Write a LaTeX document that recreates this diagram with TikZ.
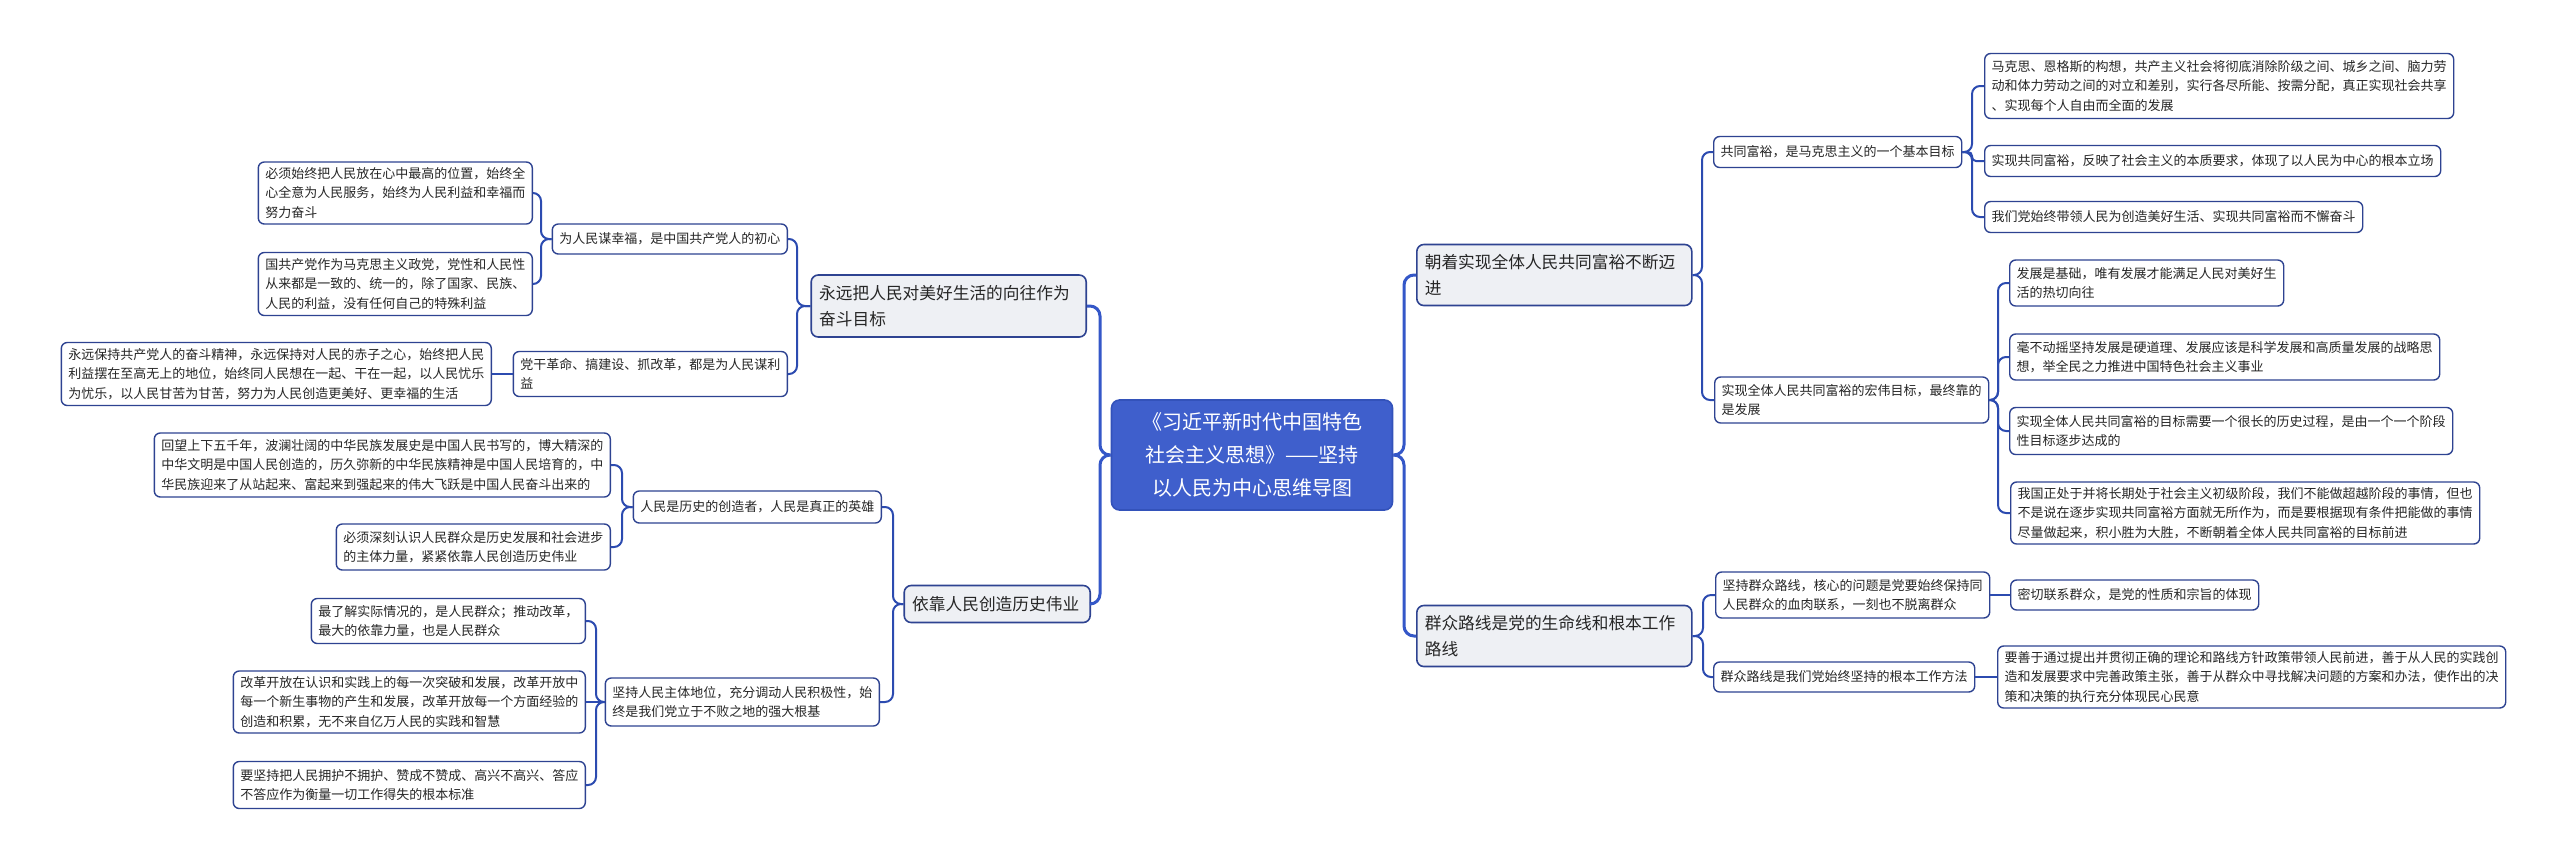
\documentclass[tikz,border=0pt]{standalone}
\usepackage{fontspec}
\newfontfamily\cjk{Noto Sans CJK SC}
\definecolor{bordc}{HTML}{2E4391}
\definecolor{mainfill}{HTML}{EEF0F4}
\definecolor{rootfill}{HTML}{3F5FCC}
\definecolor{rootbord}{HTML}{3352BA}
\definecolor{txtc}{HTML}{262626}
\definecolor{conone}{HTML}{3457C8}
\definecolor{contwo}{HTML}{2C4BB0}
\begin{document}
\begin{tikzpicture}[x=0.5pt,y=-0.5pt,
  leaf/.style={draw=bordc, line width=0.7pt, fill=white, rounded corners=3pt, inner xsep=3.5pt, inner ysep=2pt, align=left, font=\cjk\fontsize{6.5}{9.75}\selectfont, text=txtc},
  mainn/.style={draw=bordc, line width=0.8pt, fill=mainfill, rounded corners=3.5pt, inner xsep=4pt, align=left, font=\cjk\fontsize{8.35}{13}\selectfont, text=txtc},
  rootn/.style={draw=rootbord, line width=0.8pt, fill=rootfill, rounded corners=4pt, align=center, text=white, font=\cjk\fontsize{10}{16.5}\selectfont, minimum width=140.5pt, minimum height=55pt},
  c1/.style={draw=conone, line width=1.5pt, rounded corners=5pt},
  c2/.style={draw=contwo, line width=1pt, rounded corners=4pt},
]
\fill[white] (0,0) rectangle (2560,864);
\useasboundingbox (0,0) rectangle (2560,864);

% spines
\coordinate (sRootL) at (1100,0);
\coordinate (sRootR) at (1404,0);
\coordinate (sL1) at (797,0);
\coordinate (sL1a) at (541,0);
\coordinate (sL2) at (893,0);
\coordinate (sL2a) at (622,0);
\coordinate (sL2b) at (596,0);
\coordinate (sR1) at (1702,0);
\coordinate (sR1a) at (1972,0);
\coordinate (sR1b) at (1998,0);
\coordinate (sR2) at (1703,0);

% root
\node[rootn] (root) at (1252,455) {《习近平新时代中国特色\\社会主义思想》——坚持\\以人民为中心思维导图};

% left branch 1
\node[mainn, text width=129.5pt, minimum height=31pt, anchor=east] (L1) at (1087,306) {永远把人民对美好生活的向往作为\\奋斗目标};
\node[leaf, minimum height=15pt, anchor=east] (L1a) at (788,239) {为人民谋幸福，是中国共产党人的初心};
\node[leaf, minimum height=22.5pt, anchor=east] (L1b) at (788,374) {党干革命、搞建设、抓改革，都是为人民谋利\\益};
\node[leaf, minimum height=31pt, anchor=east] (L1ai) at (533,193) {必须始终把人民放在心中最高的位置，始终全\\心全意为人民服务，始终为人民利益和幸福而\\努力奋斗};
\node[leaf, minimum height=31.5pt, anchor=east] (L1aii) at (533,284) {国共产党作为马克思主义政党，党性和人民性\\从来都是一致的、统一的，除了国家、民族、\\人民的利益，没有任何自己的特殊利益};
\node[leaf, minimum height=31.5pt, anchor=east] (L1bi) at (492,374) {永远保持共产党人的奋斗精神，永远保持对人民的赤子之心，始终把人民\\利益摆在至高无上的地位，始终同人民想在一起、干在一起，以人民忧乐\\为忧乐，以人民甘苦为甘苦，努力为人民创造更美好、更幸福的生活};

% left branch 2
\node[mainn, text width=85pt, minimum height=18.5pt, anchor=east] (L2) at (1091,604) {依靠人民创造历史伟业};
\node[leaf, minimum height=16pt, anchor=east] (L2a) at (882,507) {人民是历史的创造者，人民是真正的英雄};
\node[leaf, minimum height=32pt, anchor=east] (L2ai) at (611,465) {回望上下五千年，波澜壮阔的中华民族发展史是中国人民书写的，博大精深的\\中华文明是中国人民创造的，历久弥新的中华民族精神是中国人民培育的，中\\华民族迎来了从站起来、富起来到强起来的伟大飞跃是中国人民奋斗出来的};
\node[leaf, minimum height=23pt, anchor=east] (L2aii) at (611,547) {必须深刻认识人民群众是历史发展和社会进步\\的主体力量，紧紧依靠人民创造历史伟业};
\node[leaf, minimum height=24pt, anchor=east] (L2b) at (880,702) {坚持人民主体地位，充分调动人民积极性，始\\终是我们党立于不败之地的强大根基};
\node[leaf, minimum height=22.5pt, anchor=east] (L2bi) at (586,621) {最了解实际情况的，是人民群众；推动改革，\\最大的依靠力量，也是人民群众};
\node[leaf, minimum height=31pt, anchor=east] (L2bii) at (586,702) {改革开放在认识和实践上的每一次突破和发展，改革开放中\\每一个新生事物的产生和发展，改革开放每一个方面经验的\\创造和积累，无不来自亿万人民的实践和智慧};
\node[leaf, minimum height=23.5pt, anchor=east] (L2biii) at (586,785) {要坚持把人民拥护不拥护、赞成不赞成、高兴不高兴、答应\\不答应作为衡量一切工作得失的根本标准};

% right branch 1
\node[mainn, text width=129.5pt, minimum height=30.5pt, anchor=west] (R1) at (1416,275) {朝着实现全体人民共同富裕不断迈\\进};
\node[leaf, minimum height=15.5pt, anchor=west] (R1a) at (1713,152) {共同富裕，是马克思主义的一个基本目标};
\node[leaf, minimum height=32.5pt, anchor=west] (R1ai) at (1984,86) {马克思、恩格斯的构想，共产主义社会将彻底消除阶级之间、城乡之间、脑力劳\\动和体力劳动之间的对立和差别，实行各尽所能、按需分配，真正实现社会共享\\、实现每个人自由而全面的发展};
\node[leaf, minimum height=15.5pt, anchor=west] (R1aii) at (1984,161) {实现共同富裕，反映了社会主义的本质要求，体现了以人民为中心的根本立场};
\node[leaf, minimum height=15.5pt, anchor=west] (R1aiii) at (1984,217) {我们党始终带领人民为创造美好生活、实现共同富裕而不懈奋斗};
\node[leaf, minimum height=23pt, anchor=west] (R1b) at (1714,400) {实现全体人民共同富裕的宏伟目标，最终靠的\\是发展};
\node[leaf, minimum height=23pt, anchor=west] (R1bi) at (2009,283) {发展是基础，唯有发展才能满足人民对美好生\\活的热切向往};
\node[leaf, minimum height=23pt, anchor=west] (R1bii) at (2009,357) {毫不动摇坚持发展是硬道理、发展应该是科学发展和高质量发展的战略思\\想，举全民之力推进中国特色社会主义事业};
\node[leaf, minimum height=23.5pt, anchor=west] (R1biii) at (2009,431) {实现全体人民共同富裕的目标需要一个很长的历史过程，是由一个一个阶段\\性目标逐步达成的};
\node[leaf, minimum height=31pt, anchor=west] (R1biv) at (2010,513) {我国正处于并将长期处于社会主义初级阶段，我们不能做超越阶段的事情，但也\\不是说在逐步实现共同富裕方面就无所作为，而是要根据现有条件把能做的事情\\尽量做起来，积小胜为大胜，不断朝着全体人民共同富裕的目标前进};

% right branch 2
\node[mainn, text width=129.5pt, minimum height=30.5pt, anchor=west] (R2) at (1416,636) {群众路线是党的生命线和根本工作\\路线};
\node[leaf, minimum height=23pt, anchor=west] (R2a) at (1715,595) {坚持群众路线，核心的问题是党要始终保持同\\人民群众的血肉联系，一刻也不脱离群众};
\node[leaf, minimum height=15pt, anchor=west] (R2ai) at (2010,595) {密切联系群众，是党的性质和宗旨的体现};
\node[leaf, minimum height=15pt, anchor=west] (R2b) at (1713,677) {群众路线是我们党始终坚持的根本工作方法};
\node[leaf, minimum height=31pt, anchor=west] (R2bi) at (1997,677) {要善于通过提出并贯彻正确的理论和路线方针政策带领人民前进，善于从人民的实践创\\造和发展要求中完善政策主张，善于从群众中寻找解决问题的方案和办法，使作出的决\\策和决策的执行充分体现民心民意};

% connectors: root
\draw[c1] (root.west) -| (sRootL |- L1.east) -- (L1.east);
\draw[c1] (root.west) -| (sRootL |- L2.east) -- (L2.east);
\draw[c1] (root.east) -| (sRootR |- R1.west) -- (R1.west);
\draw[c1] (root.east) -| (sRootR |- R2.west) -- (R2.west);
% left 1
\draw[c2] (L1.west) -| (sL1 |- L1a.east) -- (L1a.east);
\draw[c2] (L1.west) -| (sL1 |- L1b.east) -- (L1b.east);
\draw[c2] (L1a.west) -| (sL1a |- L1ai.east) -- (L1ai.east);
\draw[c2] (L1a.west) -| (sL1a |- L1aii.east) -- (L1aii.east);
\draw[c2] (L1b.west) -- (L1bi.east);
% left 2
\draw[c2] (L2.west) -| (sL2 |- L2a.east) -- (L2a.east);
\draw[c2] (L2.west) -| (sL2 |- L2b.east) -- (L2b.east);
\draw[c2] (L2a.west) -| (sL2a |- L2ai.east) -- (L2ai.east);
\draw[c2] (L2a.west) -| (sL2a |- L2aii.east) -- (L2aii.east);
\draw[c2] (L2b.west) -| (sL2b |- L2bi.east) -- (L2bi.east);
\draw[c2] (L2b.west) -- (L2bii.east);
\draw[c2] (L2b.west) -| (sL2b |- L2biii.east) -- (L2biii.east);
% right 1
\draw[c2] (R1.east) -| (sR1 |- R1a.west) -- (R1a.west);
\draw[c2] (R1.east) -| (sR1 |- R1b.west) -- (R1b.west);
\draw[c2] (R1a.east) -| (sR1a |- R1ai.west) -- (R1ai.west);
\draw[c2, rounded corners=2pt] (R1a.east) -| (sR1a |- R1aii.west) -- (R1aii.west);
\draw[c2] (R1a.east) -| (sR1a |- R1aiii.west) -- (R1aiii.west);
\draw[c2] (R1b.east) -| (sR1b |- R1bi.west) -- (R1bi.west);
\draw[c2] (R1b.east) -| (sR1b |- R1bii.west) -- (R1bii.west);
\draw[c2] (R1b.east) -| (sR1b |- R1biii.west) -- (R1biii.west);
\draw[c2] (R1b.east) -| (sR1b |- R1biv.west) -- (R1biv.west);
% right 2
\draw[c2] (R2.east) -| (sR2 |- R2a.west) -- (R2a.west);
\draw[c2] (R2.east) -| (sR2 |- R2b.west) -- (R2b.west);
\draw[c2] (R2a.east) -- (R2ai.west);
\draw[c2] (R2b.east) -- (R2bi.west);
\end{tikzpicture}
\end{document}
